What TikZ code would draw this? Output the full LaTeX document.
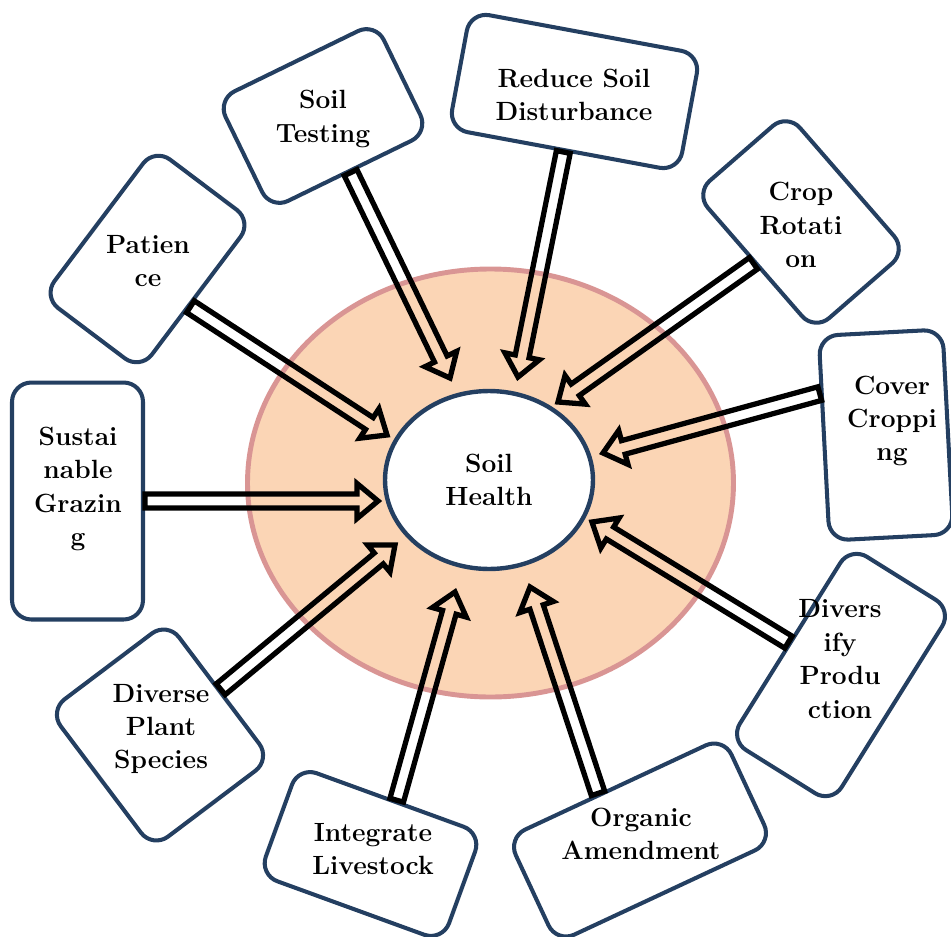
\documentclass[tikz,border=0pt]{standalone}
\usepackage{tikz}
\usetikzlibrary{calc,shapes.geometric}

\definecolor{navy}{RGB}{36,63,97}
\definecolor{peach}{RGB}{251,213,181}
\definecolor{rose}{RGB}{217,149,148}

\tikzset{
  box/.style={draw=navy, line width=2.3pt, fill=white, rounded corners=11pt, inner sep=0pt},
  txt/.style={align=center, inner sep=0pt, font=\bfseries\fontsize{15}{19}\selectfont},
  hub/.style={ellipse, draw=navy, line width=2.5pt, fill=white, inner sep=0pt,
    minimum width=4.16cm, minimum height=3.56cm, align=center,
    font=\bfseries\fontsize{15}{19}\selectfont},
  hollow/.style={draw=black, line width=3pt, line join=miter, to path={
    ($(\tikztostart)!4pt!90:(\tikztotarget)$)
    -- ($(\tikztotarget)!12pt!(\tikztostart)!4pt!90:(\tikztotarget)$)
    -- ($(\tikztotarget)!12pt!(\tikztostart)!10pt!90:(\tikztotarget)$)
    -- (\tikztotarget)
    -- ($(\tikztotarget)!12pt!(\tikztostart)!10pt!-90:(\tikztotarget)$)
    -- ($(\tikztotarget)!12pt!(\tikztostart)!4pt!-90:(\tikztotarget)$)
    -- ($(\tikztostart)!4pt!-90:(\tikztotarget)$) -- cycle}}
}

\begin{document}
\begin{tikzpicture}[x=0.02cm, y=-0.02cm]
    \useasboundingbox (0,0) rectangle (951,937);

    % Ring and centre
    \filldraw[fill=peach, draw=rose, line width=2.8pt] (490.5,483) ellipse [x radius=243, y radius=214];
    \node[hub] (health) at (489,480) {Soil\\Health};

    % Boxes
    \node[box, rotate=0, minimum width=2.62cm, minimum height=4.74cm] (graz) at (77.5,501) {};
    \node[box, rotate=-37, minimum width=2.44cm, minimum height=3.72cm] (pat) at (147.5,259) {};
    \node[box, rotate=26, minimum width=3.52cm, minimum height=2.44cm] (test) at (323,116) {};
    \node[box, rotate=-10.5, minimum width=4.68cm, minimum height=2.38cm] (red) at (574.5,91.5) {};
    \node[box, rotate=41, minimum width=2.44cm, minimum height=3.64cm] (crop) at (801,222) {};
    \node[box, rotate=3, minimum width=2.48cm, minimum height=4.10cm] (cover) at (886,435) {};
    \node[box, rotate=-32, minimum width=2.40cm, minimum height=4.56cm] (div) at (841,675) {};
    \node[box, rotate=25, minimum width=4.76cm, minimum height=2.32cm] (org) at (640,840) {};
    \node[box, rotate=-20, minimum width=3.90cm, minimum height=2.30cm] (liv) at (370.5,854) {};
    \node[box, rotate=37, minimum width=2.96cm, minimum height=3.44cm] (dps) at (160,735) {};

    % Labels
    \node[txt] (graz-t) at (78,489) {Sustai\\nable\\Grazin\\g};
    \node[txt] (pat-t) at (148,261) {Patien\\ce};
    \node[txt] (test-t) at (323,119) {Soil\\Testing};
    \node[txt] (red-t) at (574,95) {Reduce Soil\\Disturbance};
    \node[txt] (crop-t) at (801,225) {Crop\\Rotati\\on};
    \node[txt] (cover-t) at (892,421) {Cover\\Croppi\\ng};
    \node[txt] (div-t) at (840,659) {Divers\\ify\\Produ\\ction};
    \node[txt] (org-t) at (641,834) {Organic\\Amendment};
    \node[txt] (liv-t) at (373,849) {Integrate\\Livestock};
    \node[txt] (dps-t) at (161,729) {Diverse\\Plant\\Species};

    % Arrow tips
    \coordinate (graz-tip) at (378,501);
    \coordinate (pat-tip) at (387,435);
    \coordinate (test-tip) at (450,378);
    \coordinate (red-tip) at (518,377);
    \coordinate (crop-tip) at (558,402);
    \coordinate (cover-tip) at (603,453);
    \coordinate (div-tip) at (592,522);
    \coordinate (org-tip) at (530,587);
    \coordinate (liv-tip) at (455,592);
    \coordinate (dps-tip) at (395,545);

    % Arrows
    \draw[hollow] (graz.east) to (graz-tip);
    \draw[hollow] (pat.-11) to (pat-tip);
    \draw[hollow] (test.south) to (test-tip);
    \draw[hollow] (red.south) to (red-tip);
    \draw[hollow] (crop.west) to (crop-tip);
    \draw[hollow] (cover.145) to (cover-tip);
    \draw[hollow] (div.west) to (div-tip);
    \draw[hollow] (org.107) to (org-tip);
    \draw[hollow] (liv.84) to (liv-tip);
    \draw[hollow] (dps.east) to (dps-tip);
\end{tikzpicture}
\end{document}
